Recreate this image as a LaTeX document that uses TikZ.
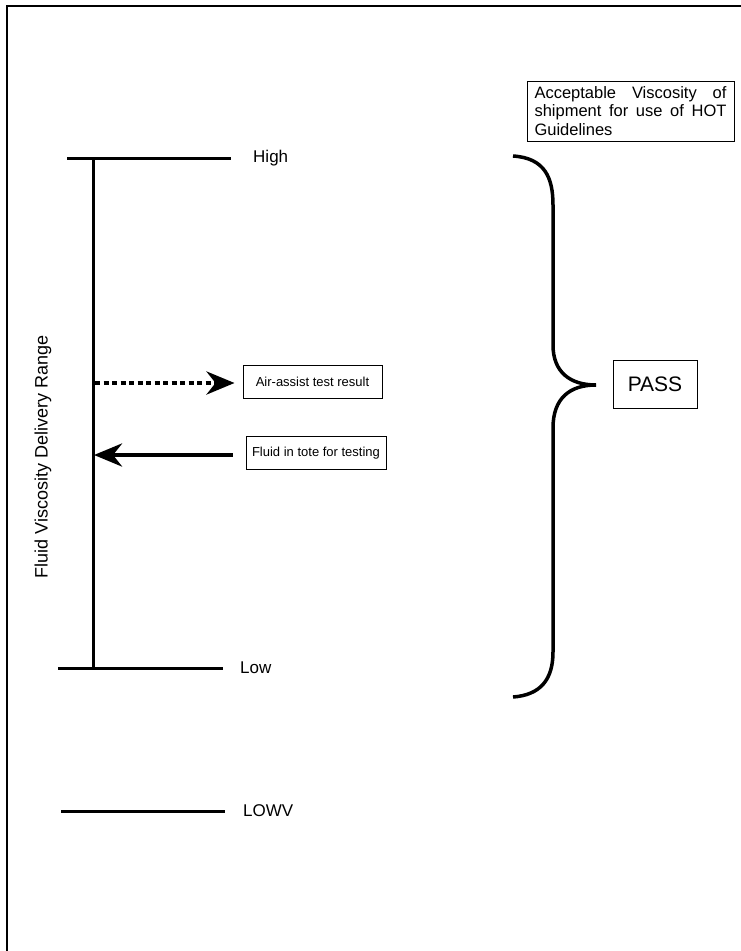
\documentclass[tikz,border=0pt]{standalone}
\usepackage{fontspec}
\setmainfont{Liberation Sans}
\usetikzlibrary{arrows.meta}

\begin{document}
\begin{tikzpicture}[x=1pt, y=-1pt]
    \tikzstyle{every node} = [inner sep=0pt]
    \tikzstyle{rangeline} = [line width=3pt]
    \tikzstyle{labelbox} = [draw, line width=0.9pt, minimum width=139pt, minimum height=33pt, font=\fontsize{13}{15}\selectfont]
    \tikzstyle{bigtip} = [-{Stealth[length=28pt, width=23pt, inset=9pt]}]
    \useasboundingbox (0,0) rectangle (741,951);

    % page frame
    \draw[line width=2pt] (7,951) -- (7,6) -- (741,6);

    % delivery range scale
    \coordinate (highL) at (67,158);
    \coordinate (highR) at (231,158);
    \coordinate (lowL) at (58,668);
    \coordinate (lowR) at (223,668);
    \coordinate (lowvL) at (61,811);
    \coordinate (lowvR) at (225,811);
    \coordinate (axisTop) at (93,158);
    \coordinate (axisBot) at (93,668);
    \draw[rangeline] (highL) -- (highR);
    \draw[rangeline] (lowL) -- (lowR);
    \draw[rangeline] (lowvL) -- (lowvR);
    \draw[rangeline] (axisTop) -- (axisBot);
    \node[anchor=base west, font=\fontsize{17}{19}\selectfont] (high) at (253,162) {High};
    \node[anchor=base west, font=\fontsize{17}{19}\selectfont] (low) at (240,673) {Low};
    \node[anchor=base west, font=\fontsize{17}{19}\selectfont] (lowv) at (243,816) {LOWV};
    \node[rotate=90, font=\fontsize{18}{20}\selectfont] (rangelabel) at (43,457) {Fluid Viscosity Delivery Range};

    % test arrows
    \node[labelbox] (airbox) at (312.5,381.5) {Air-assist test result};
    \node[labelbox, minimum width=140pt] (totebox) at (316,453) {Fluid in tote for testing};
    \coordinate (airstart) at (95,383);
    \coordinate (toteend) at (94,455);
    \draw[bigtip, line width=4.5pt, dash pattern=on 5pt off 3.5pt] (airstart) -- ([xshift=-8pt]airbox.west |- airstart);
    \draw[bigtip, line width=4.5pt] ([xshift=-13pt]totebox.west |- toteend) -- (toteend);

    % acceptable range
    \node[draw, line width=0.9pt, text width=192pt, inner xsep=7.5pt, minimum height=60pt, align=justify,
          font=\fontsize{16.5}{18.5}\selectfont] (accept) at (630.5,111)
          {Acceptable Viscosity of shipment for use of HOT Guidelines};
    \draw[line width=3.5pt] (513,156) .. controls (545,158) and (553,178) .. (553,205)
        -- (553,345) .. controls (553,372) and (570,385) .. (596,385)
        .. controls (570,385) and (553,398) .. (553,428)
        -- (553,652) .. controls (553,680) and (540,695) .. (513,697);
    \node[draw, line width=0.9pt, minimum width=84pt, minimum height=48pt,
          font=\fontsize{21}{23}\selectfont] (pass) at (655,384) {PASS};
\end{tikzpicture}
\end{document}
